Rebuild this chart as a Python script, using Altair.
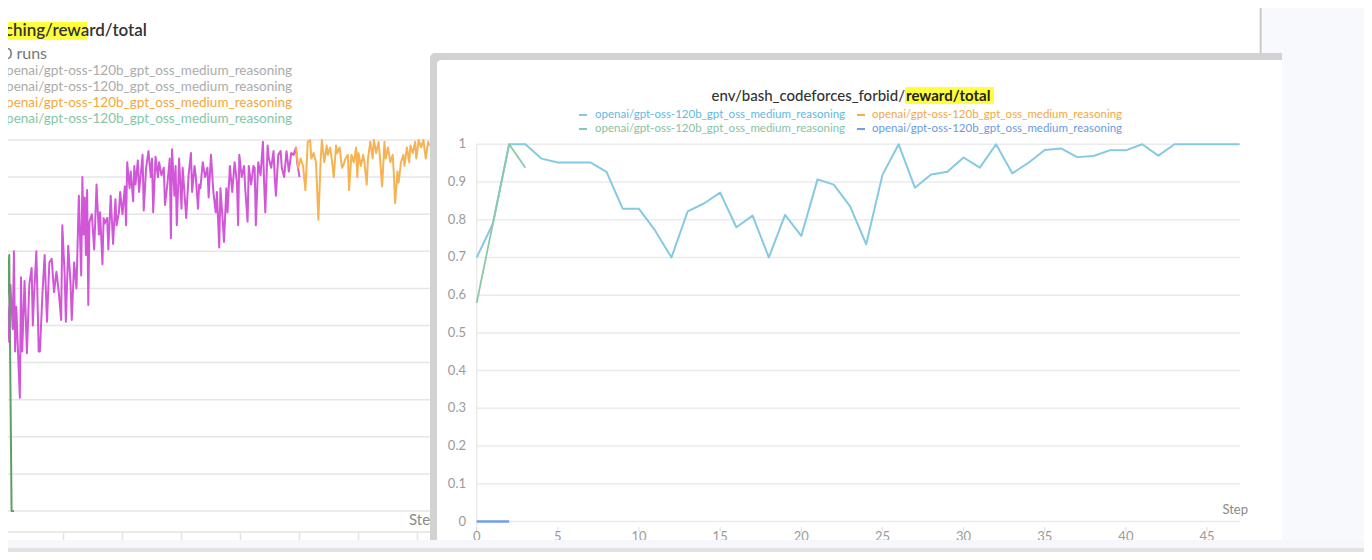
import altair as alt
import pandas as pd

W, H = 1356, 544
OFF = 8  # page margin: chart px = page px - OFF


def P(v):
    return v - OFF


FONT = "Lato"
NARROW = "Liberation Sans Narrow, Lato"

# ---------------- foreground panel data ----------------
run_name = "openai/gpt-oss-120b_gpt_oss_medium_reasoning"
fg_title_a = "env/bash_codeforces_forbid/"
fg_title_b = "reward/total"
fg_steps = list(range(48))
fg_cyan = [0.70, 0.79, 1.0, 1.0, 0.962, 0.952, 0.952, 0.952, 0.927, 0.829,
           0.829, 0.771, 0.70, 0.822, 0.843, 0.872, 0.780, 0.811, 0.70, 0.813,
           0.757, 0.907, 0.893, 0.836, 0.735, 0.919, 1.0, 0.885, 0.920, 0.927,
           0.965, 0.938, 1.0, 0.923, 0.951, 0.985, 0.989, 0.966, 0.969, 0.984,
           0.984, 1.0, 0.970, 1.0, 1.0, 1.0, 1.0, 1.0]
fg_green_steps = [0, 1, 2, 3]
fg_green = [0.58, 0.79, 1.0, 0.938]
fg_blue_steps = [0, 1, 2]
fg_blue = [0.0, 0.0, 0.0]
fg_yticks = [0, 0.1, 0.2, 0.3, 0.4, 0.5, 0.6, 0.7, 0.8, 0.9, 1.0]
fg_ytick_labels = ["0", "0.1", "0.2", "0.3", "0.4", "0.5", "0.6", "0.7", "0.8", "0.9", "1"]
fg_xticks = [0, 5, 10, 15, 20, 25, 30, 35, 40, 45]
fg_xtick_labels = ["0", "5", "10", "15", "20", "25", "30", "35", "40", "45"]
C_CYAN, C_ORANGE, C_GREEN, C_BLUE = "#86C9E3", "#F4AE4C", "#8CC9A9", "#6E9FE8"
C_CYAN_T, C_ORANGE_T, C_GREEN_T, C_BLUE_T = "#62B9DF", "#F2A843", "#86C3A3", "#6A9AE6"

# ---------------- background (left) chart data ----------------
left_title = "ching/reward/total"
left_runs = "10 runs"
left_legend_colors = ["#ABABAB", "#ABABAB", "#F2A83A", "#84C6A6"]
left_yticks = [0, 0.1, 0.2, 0.3, 0.4, 0.5, 0.6, 0.7, 0.8, 0.9, 1.0]
left_xticks = [0, 50, 100, 150, 200, 250, 300, 350]
purple_s = [0, 1, 2, 4, 5, 7, 8, 9, 10, 12, 13, 14, 15, 17, 19, 21, 23, 24, 25, 27,
            29, 30, 32, 34, 36, 38, 40, 42, 44, 46, 48, 49, 51, 52, 54, 56, 57, 59, 61, 62,
            63, 65, 66, 67, 68, 69, 70, 71, 72, 74, 76, 77, 78, 80, 81, 83, 84, 85, 87, 88,
            90, 92, 94, 95, 97, 98, 100, 102, 103, 104, 106, 107, 109, 110, 111, 113, 114, 116, 117, 118,
            120, 122, 124, 125, 126, 128, 130, 131, 133, 135, 136, 138, 140, 141, 142, 144, 145, 146, 148, 150,
            151, 154, 156, 158, 159, 161, 162, 164, 165, 166, 168, 170, 172, 173, 175, 177, 179, 180, 182, 183,
            185, 186, 188, 189, 191, 193, 195, 197, 198, 199, 201, 203, 204, 206, 207, 209, 211, 212, 213, 215,
            217, 219, 220, 221, 223, 224, 226, 228, 229, 230, 232, 234, 235, 237, 239, 241, 243, 245, 247, 248,
            250]
purple_v = [.52, .33, .60, .455, .61, .49, .70, .43, .55, .385, .305, .63, .43, .62, .425, .61, .655, .50, .58, .70,
            .43, .43, .575, .69, .51, .67, .68, .59, .645, .59, .515, .77, .635, .51, .715, .61, .515, .67, .60, .725,
            .85, .635, .90, .745, .845, .69, .865, .555, .78, .80, .705, .79, .88, .745, .805, .665, .79, .775, .79, .705,
            .85, .72, .84, .77, .805, .86, .80, .875, .77, .94, .87, .915, .835, .93, .88, .945, .86, .925, .96, .81,
            .925, .97, .90, .95, .805, .955, .90, .94, .905, .925, .825, .88, .95, .735, .975, .85, .93, .77, .95, .815,
            .925, .79, .905, .965, .86, .93, .905, .815, .88, .87, .94, .90, .925, .845, .96, .86, .805, .86, .71, .87,
            .78, .725, .87, .805, .93, .86, .94, .885, .77, .96, .90, .93, .87, .78, .93, .88, .93, .925, .77, .94,
            .905, .995, .885, .805, .985, .95, .925, .97, .90, .85, .96, .97, .925, .90, .97, .915, .965, .96, .98, .94,
            .90]
orange_s = [247, 249, 251, 253, 255, 257, 259, 260, 262, 264, 266, 268, 269, 271, 273, 274, 276, 278, 279, 281,
            282, 284, 286, 287, 289, 291, 292, 294, 296, 298, 299, 300, 302, 304, 305, 307, 308, 310, 312, 313,
            315, 317, 318, 320, 322, 323, 325, 327, 329, 330, 331, 333, 334, 336, 338, 339, 341, 343, 344, 346,
            348, 349, 351, 353, 355, 357, 359, 360]
orange_v = [.98, .925, .95, .93, .865, .995, 1.0, .95, .965, .94, .785, .95, 1.0, .94, .985, .96, .98, .93, .90, .985,
            .965, .98, .925, .93, .95, .96, .865, .96, .94, .98, .90, .965, .93, .96, .94, .88, .95, .995, .95, 1.0,
            .965, .995, .96, .875, .995, .95, .98, .94, .96, .905, .83, .915, .885, .94, .96, .93, .98, .94, .985, .965,
            .995, .95, 1.0, .98, 1.0, .95, .995, .985]
lgreen_s = [0, 1, 4, 6, 8]
lgreen_v = [0.43, 0.475, 0.69, 0.0, 0.0]
red_s = [-4, -3, -1, 0, 1]
red_v = [0.78, 0.968, 0.93, 0.887, 0.90]

assert len(purple_s) == len(purple_v)
assert len(orange_s) == len(orange_v)

# ---------------- scales ----------------
fgx = alt.Scale(domain=[0, 47], range=[P(476.7), P(1239.5)], zero=False, nice=False)
fgy = alt.Scale(domain=[0, 1], range=[P(521.5), P(144.3)], zero=False, nice=False)
lx = alt.Scale(domain=[0, 400], range=[P(4.5), P(4.5 + 400 * 1.18)], zero=False, nice=False)
ly = alt.Scale(domain=[0, 1], range=[P(511), P(140)], zero=False, nice=False)

one = pd.DataFrame({"k": [0]})


def rect(x1, y1, x2, y2, color, **kw):
    return alt.Chart(one).mark_rect(color=color, **kw).encode(
        x=alt.value(P(x1)), x2=alt.value(P(x2)), y=alt.value(P(y1)), y2=alt.value(P(y2)))


def hrule(x1, x2, y, color, width=2):
    return alt.Chart(one).mark_rule(color=color, strokeWidth=width).encode(
        x=alt.value(P(x1)), x2=alt.value(P(x2)), y=alt.value(P(y)))


def vrule(x, y1, y2, color, width=2):
    return alt.Chart(one).mark_rule(color=color, strokeWidth=width).encode(
        x=alt.value(P(x)), y=alt.value(P(y1)), y2=alt.value(P(y2)))


def text(t, x, y, **kw):
    kw.setdefault("font", FONT)
    kw.setdefault("baseline", "middle")
    return alt.Chart(one).mark_text(text=t, **kw).encode(x=alt.value(P(x)), y=alt.value(P(y)))


def line(steps, vals, sx, sy, color, width=2.0):
    df = pd.DataFrame({"s": steps, "v": vals})
    return alt.Chart(df).mark_line(color=color, strokeWidth=width, strokeJoin="round").encode(
        x=alt.X("s:Q", scale=sx, axis=None), y=alt.Y("v:Q", scale=sy, axis=None))


layers = []

# ---------------- background chart ----------------
layers.append(alt.Chart(pd.DataFrame({"v": left_yticks})).mark_rule(color="#E6E6E6", strokeWidth=1.5).encode(
    y=alt.Y("v:Q", scale=ly, axis=None), x=alt.value(P(0)), x2=alt.value(P(432))))
layers.append(hrule(0, 432, 532, "#E3E3E3", 1.5))
layers.append(alt.Chart(pd.DataFrame({"s": left_xticks})).mark_rule(color="#E3E3E3", strokeWidth=1.5).encode(
    x=alt.X("s:Q", scale=lx, axis=None), y=alt.value(P(532)), y2=alt.value(P(540))))
layers.append(line(purple_s, purple_v, lx, ly, "#D257D8"))
layers.append(line(orange_s, orange_v, lx, ly, "#F5B353"))
layers.append(line(lgreen_s, lgreen_v, lx, ly, "#5F9F63"))
layers.append(line(red_s, red_v, lx, ly, "#E05555"))
layers.append(rect(0, 22, 87, 40, "#FFFF3B"))
layers.append(text(left_title, 147, 31, align="right", fontSize=17, fontWeight=600, color="#333333"))
layers.append(text(left_runs, 47, 54, align="right", fontSize=16, color="#777777"))
for i, c in enumerate(left_legend_colors):
    layers.append(text(run_name, 292, 71 + 16 * i, align="right", fontSize=13.5, color=c))
layers.append(text("Step", 409, 520, align="left", fontSize=15, color="#8A8A8A"))

# ---------------- surrounding page ----------------
layers.append(rect(1262, 0, 1372, 53, "#F8F9FD"))
layers.append(vrule(1260.7, 0, 53, "#C8C8C8", 2))
layers.append(rect(1282, 53, 1372, 560, "#F8F9FD"))
layers.append(rect(430, 53, 1282, 540, "#D2D2D2", cornerRadiusTopLeft=5))
layers.append(rect(437, 60, 1282, 540, "#FFFFFF", cornerRadiusTopLeft=4))

# ---------------- foreground chart ----------------
layers.append(alt.Chart(pd.DataFrame({"v": fg_yticks})).mark_rule(color="#EBEBEB", strokeWidth=1.5).encode(
    y=alt.Y("v:Q", scale=fgy, axis=None), x=alt.value(P(476.7)), x2=alt.value(P(1240))))
layers.append(vrule(476.7, 144, 531, "#E6E6E6", 1.2))
layers.append(alt.Chart(pd.DataFrame({"s": fg_xticks})).mark_rule(color="#DDDDDD", strokeWidth=1).encode(
    x=alt.X("s:Q", scale=fgx, axis=None), y=alt.value(P(527)), y2=alt.value(P(532))))
layers.append(alt.Chart(pd.DataFrame({"v": fg_yticks, "t": fg_ytick_labels})).mark_text(
    align="right", baseline="middle", font=NARROW, fontSize=13, color="#9A9A9A").encode(
    y=alt.Y("v:Q", scale=fgy, axis=None), x=alt.value(P(466)), text="t:N"))
layers.append(alt.Chart(pd.DataFrame({"s": fg_xticks, "t": fg_xtick_labels})).mark_text(
    align="center", baseline="top", font=NARROW, fontSize=13, color="#9A9A9A").encode(
    x=alt.X("s:Q", scale=fgx, axis=None), y=alt.value(P(531)), text="t:N"))
layers.append(text("Step", 1248, 510, align="right", font=NARROW, fontSize=13, color="#8A8A8A"))
layers.append(line(fg_steps, fg_cyan, fgx, fgy, C_CYAN, 2))
layers.append(line(fg_green_steps, fg_green, fgx, fgy, C_GREEN, 1.8))
layers.append(line(fg_blue_steps, fg_blue, fgx, fgy, C_BLUE, 2.5))

# title with highlight
layers.append(rect(905, 87, 994, 104, "#FFFF3B"))
layers.append(text(fg_title_a, 905, 95.5, align="right", fontSize=15, fontWeight=500, color="#333333"))
layers.append(text(fg_title_b, 906, 95.5, align="left", fontSize=15, fontWeight="bold", color="#222222"))

# legend (2 columns x 2 rows)
legend_items = [(579, 595, 115, C_CYAN, C_CYAN_T), (857, 872, 115, C_ORANGE, C_ORANGE_T),
                (579, 595, 129, C_GREEN, C_GREEN_T), (857, 872, 129, C_BLUE, C_BLUE_T)]
for dx, tx, ty, lc, tc in legend_items:
    layers.append(hrule(dx, dx + 8, ty, lc, 2))
    layers.append(text(run_name, tx, ty, align="left", fontSize=11.5, color=tc))

# bottom strips
layers.append(rect(0, 540, 1372, 548, "#F6F7FA"))
layers.append(rect(0, 548, 1372, 560, "#E2E2E2"))

chart = alt.layer(*layers).resolve_scale(x="independent", y="independent").properties(
    width=W, height=H, padding=0, autosize="none", background="white"
).configure_view(stroke=None)

chart.save("out.html", embed_options={"renderer": "svg", "actions": False})
